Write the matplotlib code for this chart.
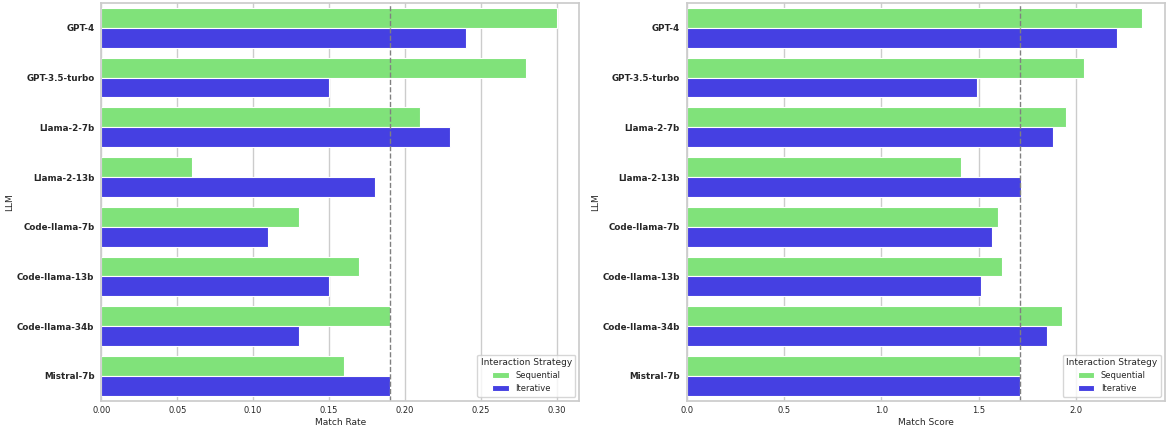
import matplotlib
matplotlib.use("Agg")
import matplotlib.pyplot as plt
import seaborn as sns
import pandas as pd

llms = ["GPT-4", "GPT-3.5-turbo", "Llama-2-7b", "Llama-2-13b",
        "Code-llama-7b", "Code-llama-13b", "Code-llama-34b", "Mistral-7b"]
strategies = ["Sequential", "Iterative"]

rate_seq = [0.30, 0.28, 0.21, 0.06, 0.13, 0.17, 0.19, 0.16]
rate_iter = [0.24, 0.15, 0.23, 0.18, 0.11, 0.15, 0.13, 0.19]
rate_ref = 0.19

score_seq = [2.34, 2.04, 1.95, 1.41, 1.60, 1.62, 1.93, 1.71]
score_iter = [2.21, 1.49, 1.88, 1.72, 1.57, 1.51, 1.85, 1.71]
score_ref = 1.71

palette = {"Sequential": "#80e27a", "Iterative": "#4540e2"}


def make_df(seq, it, col):
    rows = []
    for name, a, b in zip(llms, seq, it):
        rows.append({"LLM": name, "Interaction Strategy": "Sequential", col: a})
        rows.append({"LLM": name, "Interaction Strategy": "Iterative", col: b})
    return pd.DataFrame(rows)


sns.set_theme(style="whitegrid")
plt.rcParams['font.family'] = ['DejaVu Sans']

fig, axes = plt.subplots(1, 2, figsize=(11.66, 4.3), dpi=100)
fig.subplots_adjust(left=0.087, right=0.999, bottom=0.068, top=0.993, wspace=0.225)

panels = [
    (axes[0], make_df(rate_seq, rate_iter, "Match Rate"), "Match Rate", rate_ref),
    (axes[1], make_df(score_seq, score_iter, "Match Score"), "Match Score", score_ref),
]

for ax, df, col, ref in panels:
    sns.barplot(data=df, y="LLM", x=col, hue="Interaction Strategy",
                hue_order=strategies, palette=palette, orient="h",
                saturation=1, edgecolor="white", linewidth=0.8, ax=ax)
    ax.axvline(ref, color="gray", linestyle="--", linewidth=1)
    ax.set_xlabel(col, fontsize=6.5, labelpad=2)
    ax.set_ylabel("LLM", fontsize=6.5, labelpad=2)
    ax.tick_params(axis="x", labelsize=6, length=0, pad=4)
    ax.tick_params(axis="y", labelsize=6.3, length=0, pad=5)
    for lbl in ax.get_yticklabels():
        lbl.set_fontweight("bold")
    ax.legend(title="Interaction Strategy", loc="lower right",
              fontsize=6, title_fontsize=6.5)
    for sp in ax.spines.values():
        sp.set_color("#cccccc")

fig.savefig("out.png", dpi=100)
